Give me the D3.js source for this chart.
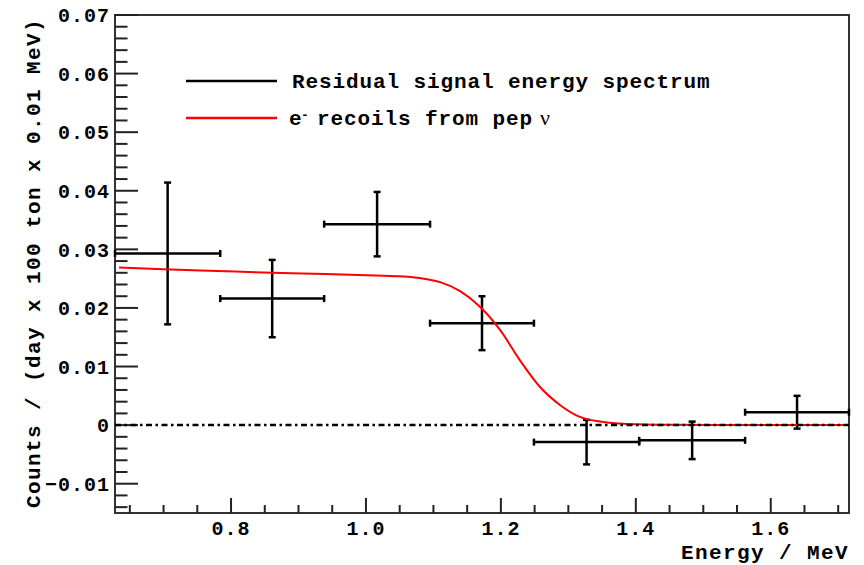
<!DOCTYPE html>
<html>
<head>
<meta charset="utf-8">
<script src="https://cdn.jsdelivr.net/npm/d3@7"></script>
<style>
  body { margin: 0; background: #fff; }
  text { font-family: "Liberation Mono", "DejaVu Sans Mono", monospace; font-weight: bold; fill: #000; }
</style>
</head>
<body>
<svg id="chart" width="864" height="565"></svg>
<script>
// ─── Data ─────────────────────────────────────────────────────────────────────
const binEdges = [0.628, 0.784, 0.938, 1.095, 1.249, 1.405, 1.562, 1.716];
const binValues = [0.0293, 0.0216, 0.0343, 0.0174, -0.0029, -0.0026, 0.0022];
const binErrors = [0.0121, 0.0066, 0.0055, 0.0046, 0.0038, 0.0032, 0.0028];

// pep nu recoil curve, sampled by eye
const curveEnergy = [0.634, 0.70, 0.78, 0.861, 0.94, 1.00, 1.05, 1.08, 1.11, 1.139, 1.169, 1.199,
                     1.228, 1.258, 1.288, 1.317, 1.347, 1.387, 1.45, 1.55, 1.712];
const curveCounts = [0.0269, 0.0266, 0.0263, 0.0260, 0.0258, 0.0256, 0.0254, 0.0251, 0.0244, 0.0229,
                     0.0202, 0.0162, 0.0111, 0.0065, 0.0034, 0.0014, 0.0006, 0.0002, 0.00005, 0, 0];

const xTickLabels = [0.8, 1.0, 1.2, 1.4, 1.6];
const yTickLabels = [-0.01, 0, 0.01, 0.02, 0.03, 0.04, 0.05, 0.06, 0.07];

const legendLabels = ["Residual signal energy spectrum", "recoils from pep"];

// ─── Layout ───────────────────────────────────────────────────────────────────
const frame = { left: 115, right: 849, top: 15, bottom: 513 };
const svg = d3.select("#chart");

const x = d3.scaleLinear().domain([0.628, 1.716]).range([frame.left, frame.right]);
const y = d3.scaleLinear().domain([-0.015, 0.07]).range([frame.bottom, frame.top]);

// frame box
svg.append("rect")
    .attr("x", frame.left).attr("y", frame.top)
    .attr("width", frame.right - frame.left).attr("height", frame.bottom - frame.top)
    .attr("fill", "none").attr("stroke", "#333").attr("stroke-width", 2);

// y ticks (inside, pointing right)
const yMinor = d3.range(-14, 71, 2).map(d => d / 1000);
svg.append("g").selectAll("line").data(yMinor).join("line")
    .attr("x1", frame.left).attr("x2", d => frame.left + (Math.abs(Math.round(d * 1000) % 10) === 0 ? 23 : 12.5))
    .attr("y1", d => y(d)).attr("y2", d => y(d))
    .attr("stroke", "#222").attr("stroke-width", 2);

svg.append("g").selectAll("text").data(yTickLabels).join("text")
    .attr("x", 110).attr("y", d => y(d)).attr("dy", "0.36em")
    .attr("text-anchor", "end").style("font-size", "20px").style("letter-spacing", "1px")
    .text(d => d === 0 ? "0" : d3.format(".2f")(d));

// x ticks (inside, pointing up)
const xMinor = d3.range(13, 35).map(d => d * 0.05);
svg.append("g").selectAll("line").data(xMinor).join("line")
    .attr("x1", d => x(d)).attr("x2", d => x(d))
    .attr("y1", frame.bottom)
    .attr("y2", d => frame.bottom - (xTickLabels.some(t => Math.abs(t - d) < 1e-6) ? 15 : 8))
    .attr("stroke", "#222").attr("stroke-width", 2);

svg.append("g").selectAll("text").data(xTickLabels).join("text")
    .attr("x", d => x(d)).attr("y", 535)
    .attr("text-anchor", "middle").style("font-size", "20px").style("letter-spacing", "1px")
    .text(d => d3.format(".1f")(d));

// axis titles
svg.append("text")
    .attr("x", frame.right).attr("y", 559)
    .attr("text-anchor", "end").style("font-size", "21px").style("letter-spacing", "1.4px")
    .text("Energy / MeV");

svg.append("text")
    .attr("transform", `translate(40,${frame.top + 3}) rotate(-90)`)
    .attr("text-anchor", "end").style("font-size", "21px").style("letter-spacing", "1.4px")
    .text("Counts / (day x 100 ton x 0.01 MeV)");

// ─── Histogram with error bars ────────────────────────────────────────────────
const bins = binValues.map((v, i) => ({
    lo: binEdges[i], hi: binEdges[i + 1], v: v, e: binErrors[i]
}));
const cap = 3.5;
const gBins = svg.append("g").attr("stroke", "#000").attr("stroke-width", 2.5);
bins.forEach(b => {
    const cx = x((b.lo + b.hi) / 2), cy = y(b.v);
    const segs = [
        [x(b.lo), cy, x(b.hi), cy],
        [cx, y(b.v + b.e), cx, y(b.v - b.e)],
        [x(b.lo), cy - cap, x(b.lo), cy + cap],
        [x(b.hi), cy - cap, x(b.hi), cy + cap],
        [cx - cap, y(b.v + b.e), cx + cap, y(b.v + b.e)],
        [cx - cap, y(b.v - b.e), cx + cap, y(b.v - b.e)]
    ];
    gBins.selectAll(null).data(segs).join("line")
        .attr("x1", d => d[0]).attr("y1", d => d[1])
        .attr("x2", d => d[2]).attr("y2", d => d[3]);
});

// ─── pep curve ────────────────────────────────────────────────────────────────
const line = d3.line()
    .x((d, i) => x(curveEnergy[i]))
    .y(d => y(d))
    .curve(d3.curveMonotoneX);

svg.append("path")
    .attr("d", line(curveCounts))
    .attr("fill", "none").attr("stroke", "#ff0000").attr("stroke-width", 2);

// zero line, dash-dot
svg.append("line")
    .attr("x1", frame.left).attr("x2", frame.right)
    .attr("y1", y(0)).attr("y2", y(0))
    .attr("stroke", "#000").attr("stroke-width", 2.5)
    .attr("stroke-dasharray", "6,3.5,2.5,3.5");

// ─── Legend ───────────────────────────────────────────────────────────────────
const legendRows = [
    { yPos: 81, color: "#000" },
    { yPos: 118, color: "#ff0000" }
];
legendRows.forEach(r => {
    svg.append("line")
        .attr("x1", 186).attr("x2", 277)
        .attr("y1", r.yPos).attr("y2", r.yPos)
        .attr("stroke", r.color).attr("stroke-width", 2.5);
});

svg.append("text")
    .attr("x", 292).attr("y", legendRows[0].yPos + 7)
    .style("font-size", "21px").style("letter-spacing", "0.9px")
    .text(legendLabels[0]);

const baseY = legendRows[1].yPos + 7;
svg.append("text")
    .attr("x", 289).attr("y", baseY)
    .style("font-size", "21px")
    .text("e");
svg.append("text")
    .attr("x", 301).attr("y", baseY - 6)
    .style("font-size", "13px")
    .text("-");
svg.append("text")
    .attr("x", 317).attr("y", baseY)
    .style("font-size", "21px").style("letter-spacing", "0.9px")
    .text(legendLabels[1]);
svg.append("text")
    .attr("x", 540).attr("y", baseY)
    .style("font-family", "'Liberation Serif', 'DejaVu Serif', serif")
    .style("font-weight", "normal")
    .style("font-size", "22px")
    .text("ν");
</script>
</body>
</html>
